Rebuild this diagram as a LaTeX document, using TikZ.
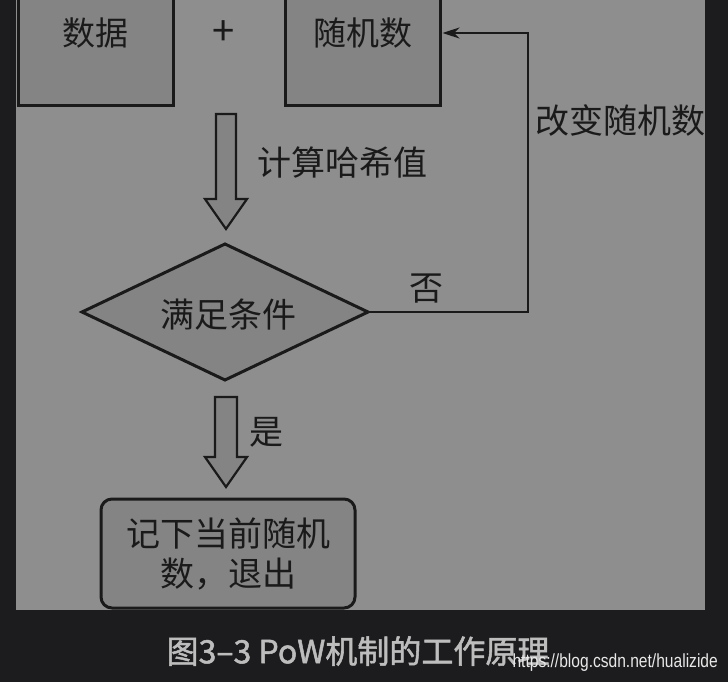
\documentclass[tikz,border=0pt]{standalone}
\usepackage{fontspec}
\setmainfont{Liberation Serif}
\newfontfamily\cjk{Noto Sans CJK SC}
\newfontfamily\capfont[FakeBold=1.6]{Noto Sans CJK SC}
\newfontfamily\wmfont[FakeStretch=0.82]{Liberation Sans}
\usetikzlibrary{arrows.meta}
\definecolor{bgdark}{HTML}{1C1C1E}
\definecolor{panel}{HTML}{8E8E8E}
\definecolor{boxfill}{HTML}{848484}
\definecolor{ink}{HTML}{1A1A1A}
\definecolor{captc}{HTML}{BDBDBD}
\definecolor{wmc}{HTML}{E8E8E8}
\tikzset{
  boxstyle/.style={draw=ink, line width=3pt, fill=boxfill, inner sep=0pt,
    font=\cjk\fontsize{33}{38}\selectfont, text=ink},
  lbl/.style={inner sep=0pt, font=\cjk\fontsize{34}{38}\selectfont, text=ink},
  blockarrow/.style={draw=ink, line width=2.2pt, fill=boxfill, line join=miter},
  conn/.style={draw=ink, line width=2.2pt},
}
\begin{document}
\begin{tikzpicture}[x=1pt,y=-1pt]
\clip (0,0) rectangle (728,682);
\fill[bgdark] (0,0) rectangle (728,682);
\fill[panel] (16,0) rectangle (705,610);
\begin{scope}
\clip (16,0) rectangle (705,610);
% top boxes
\node[boxstyle, minimum width=155pt, minimum height=146pt] (data) at (95.5,33) {数据};
\node[boxstyle, minimum width=155pt, minimum height=146pt] (rand) at (362.5,33) {随机数};
\node[inner sep=0pt, font=\cjk\fontsize{40}{44}\selectfont, text=ink] (plus) at (224,33) {+};
% block arrow 1
\draw[blockarrow] (216,114) -- (236,114) -- (236,199) -- (247,199) -- (226,229)
  -- (205,199) -- (216,199) -- cycle;
\node[lbl, anchor=west] (hash) at (257,163) {计算哈希值};
% diamond
\coordinate (condW) at (82,312);
\coordinate (condN) at (225,244);
\coordinate (condE) at (368,312);
\coordinate (condS) at (225,380);
\draw[draw=ink, line width=3pt, fill=boxfill, line join=miter]
  (condW) -- (condN) -- (condE) -- (condS) -- cycle;
\node[lbl] (cond) at (228,315) {满足条件};
\coordinate (corner) at (528,312);
\draw[conn, -{Stealth[length=17pt,width=11pt]}] (condE) -- (corner) |- ([xshift=1pt]rand.east);
\node[lbl] (no) at (426,289) {否};
\node[lbl, anchor=west] (change) at (535,120) {改变随机数};
% block arrow 2
\draw[blockarrow] (215,397) -- (237,397) -- (237,457) -- (247,457) -- (226,487)
  -- (205,457) -- (215,457) -- cycle;
\node[lbl] (yes) at (266,432) {是};
% bottom box
\node[boxstyle, rounded corners=11pt, minimum width=254pt, minimum height=109pt,
  align=center, font=\cjk\fontsize{34}{40}\selectfont] (done) at (228,553.5) {记下当前随机\\数，退出};
\end{scope}
% caption
\node[inner sep=0pt, font=\capfont\fontsize{32}{36}\selectfont, text=captc] (cap) at (358,651) {图3–3 PoW机制的工作原理};
\node[inner sep=0pt, anchor=east, font=\wmfont\fontsize{19}{22}\selectfont, text=wmc] (wm) at (718,663) {https://blog.csdn.net/hualizide};
\end{tikzpicture}
\end{document}
